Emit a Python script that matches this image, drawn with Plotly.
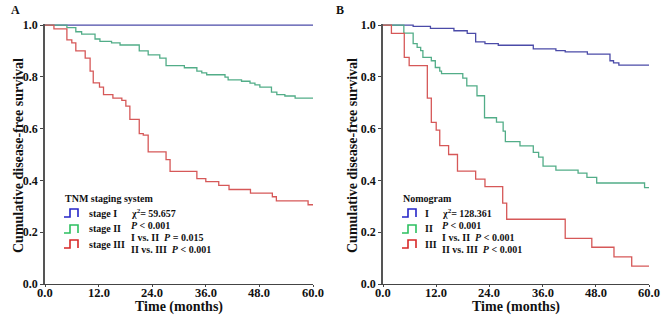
import plotly.graph_objects as go

# ---------------- data ----------------
# Panel A: TNM staging system
a_stage1_t = [0, 60]
a_stage1_s = [1.0, 1.0]

a_stage2_t = [0, 4.9, 6.9, 8.2, 11.2, 12.3, 14.9, 16.8, 21.1, 23.1, 25.7, 27.1, 31.2, 34.0,
              35.1, 36.2, 40.3, 41.0, 44.0, 45.9, 47.0, 48.1, 50.7, 51.9, 53.7, 56.0, 60]
a_stage2_s = [1.0, 0.990, 0.974, 0.965, 0.946, 0.937, 0.931, 0.923, 0.900, 0.885, 0.872, 0.843, 0.835, 0.822,
              0.815, 0.808, 0.799, 0.788, 0.783, 0.776, 0.769, 0.760, 0.741, 0.731, 0.726, 0.718, 0.718]

a_stage3_t = [0, 2.0, 4.9, 6.0, 6.9, 9.0, 10.1, 10.8, 12.2, 13.1, 15.2, 17.2, 18.1, 19.0, 21.1, 22.0,
              23.1, 27.1, 28.0, 34.0, 36.0, 38.9, 41.2, 46.0, 50.9, 51.8, 58.9, 60]
a_stage3_s = [1.0, 0.985, 0.943, 0.931, 0.900, 0.872, 0.822, 0.777, 0.760, 0.731, 0.718, 0.709, 0.687, 0.636,
              0.581, 0.575, 0.510, 0.480, 0.435, 0.407, 0.395, 0.381, 0.365, 0.351, 0.337, 0.321, 0.306, 0.306]

# Panel B: Nomogram
b_g1_t = [0, 6.8, 10.7, 16.0, 19.0, 20.9, 23.0, 26.0, 33.9, 39.0, 41.1, 46.1, 51.2, 52.0, 53.2, 60]
b_g1_s = [1.0, 0.995, 0.987, 0.978, 0.968, 0.935, 0.928, 0.922, 0.908, 0.901, 0.896, 0.888, 0.862, 0.854, 0.845, 0.845]

b_g2_t = [0, 4.7, 6.8, 7.7, 8.5, 9.0, 10.9, 11.8, 12.8, 13.2, 18.0, 18.9, 21.2, 22.9, 25.6, 27.1, 27.6,
          30.9, 33.9, 35.1, 36.1, 39.0, 44.0, 46.0, 48.2, 59.0, 60]
b_g2_s = [1.0, 0.969, 0.928, 0.914, 0.901, 0.875, 0.862, 0.836, 0.822, 0.812, 0.795, 0.765, 0.727, 0.642, 0.625, 0.590, 0.550,
          0.533, 0.508, 0.490, 0.455, 0.440, 0.428, 0.412, 0.390, 0.372, 0.372]

b_g3_t = [0, 1.9, 4.8, 5.9, 10.0, 10.9, 12.0, 12.8, 14.8, 16.8, 20.9, 23.0, 27.0, 27.9, 41.1, 47.1, 52.1, 56.1, 60]
b_g3_s = [1.0, 0.968, 0.875, 0.843, 0.718, 0.624, 0.594, 0.534, 0.500, 0.436, 0.405, 0.376, 0.312, 0.250, 0.176, 0.142, 0.105, 0.069, 0.069]

x_ticks = [0, 12, 24, 36, 48, 60]
y_ticks = [0.0, 0.2, 0.4, 0.6, 0.8, 1.0]

x_title = "Time (months)"
y_title = "Cumulative disease-free survival"

legend_a_title = "TNM staging system"
legend_a_names = ["stage I", "stage II", "stage III"]
legend_a_stats = ["χ<sup>2</sup>= 59.657", "<i>P</i> &lt; 0.001", "I vs. II  <i>P</i> = 0.015", "II vs. III  <i>P</i> &lt; 0.001"]

legend_b_title = "Nomogram"
legend_b_names = ["I", "II", "III"]
legend_b_stats = ["χ<sup>2</sup>= 128.361", "<i>P</i> &lt; 0.001", "I vs. II  <i>P</i> &lt; 0.001", "II vs. III  <i>P</i> &lt; 0.001"]

# ---------------- styling ----------------
W, H = 663, 317
FONT = "Liberation Serif"
curve_colors = ["#4b4ba8", "#52ad88", "#d65858"]
icon_colors = ["#2626c8", "#2cc060", "#d82828"]


def px(x):
    return x / W


def py(y):
    return 1 - y / H


fig = go.Figure()

panels = [
    ("x", "y", [(a_stage1_t, a_stage1_s), (a_stage2_t, a_stage2_s), (a_stage3_t, a_stage3_s)]),
    ("x2", "y2", [(b_g1_t, b_g1_s), (b_g2_t, b_g2_s), (b_g3_t, b_g3_s)]),
]
for xa, ya, series in panels:
    for (t, s), c in zip(series, curve_colors):
        fig.add_trace(go.Scatter(x=t, y=s, mode="lines", line=dict(color=c, width=1.3, shape="hv"),
                                 xaxis=xa, yaxis=ya, showlegend=False, hoverinfo="skip"))

tick_font = dict(family=FONT, size=12, color="#111", weight="bold")
xtick_font = dict(family=FONT, size=12.5, color="#111", weight="bold")
title_font = dict(family=FONT, size=14, color="#111", weight="bold")

common_x = dict(range=[0, 60], tickvals=x_ticks, showticklabels=False, showgrid=False, zeroline=False,
                showline=True, linecolor="#444", linewidth=1, ticks="outside", ticklen=2, tickcolor="#444",
                automargin=False)
common_y = dict(range=[0, 1.004], tickvals=y_ticks, tickformat=".1f", showgrid=False, zeroline=False,
                showline=True, linecolor="#555", linewidth=1.5, ticks="outside", ticklen=3, tickcolor="#444",
                tickfont=tick_font, automargin=False)

y_dom = [py(284), py(24)]
fig.update_layout(
    template="none",
    width=W, height=H, margin=dict(l=0, r=0, t=0, b=0, pad=0),
    paper_bgcolor="white", plot_bgcolor="white",
    xaxis=dict(domain=[px(45), px(313)], anchor="y", **common_x),
    yaxis=dict(domain=y_dom, anchor="x", **common_y),
    xaxis2=dict(domain=[px(383), px(649)], anchor="y2", **common_x),
    yaxis2=dict(domain=y_dom, anchor="x2", **common_y),
)

leg_font = dict(family=FONT, size=10, color="#111", weight="bold")
ann = []
shapes = []


def text_at(txt, x, y, font, xanchor="left", angle=0):
    ann.append(dict(text=txt, x=px(x), y=py(y), xref="paper", yref="paper", xanchor=xanchor,
                    yanchor="middle", showarrow=False, font=font, textangle=angle))


# x tick labels, placed on the data axes at the tick values
for xr in ("x", "x2"):
    for v in x_ticks:
        ann.append(dict(text=f"{v:.1f}", x=v, xref=xr, y=py(292.5), yref="paper", xanchor="center",
                        yanchor="middle", showarrow=False, font=xtick_font))

# panel letters
letter_font = dict(family=FONT, size=12, color="#111", weight="bold")
text_at("A", 9, 10, letter_font)
text_at("B", 334, 10, letter_font)

# axis titles
text_at(x_title, 179, 306.5, title_font, xanchor="center")
text_at(x_title, 516, 306.5, title_font, xanchor="center")
text_at(y_title, 18, 156, title_font, xanchor="center", angle=-90)
text_at(y_title, 352, 156, title_font, xanchor="center", angle=-90)


def add_legend(x0, title, names, stats, name_x, stat_x):
    text_at(title, x0, 198, leg_font)
    rows = [213, 229, 244]
    for nm, yy, c in zip(names, rows, icon_colors):
        ix = x0 + 1
        path = (f"M {px(ix)} {py(yy + 4)} L {px(ix + 6)} {py(yy + 4)} L {px(ix + 6)} {py(yy - 4)} "
                f"L {px(ix + 14)} {py(yy - 4)} L {px(ix + 14)} {py(yy + 4)}")
        shapes.append(dict(type="path", path=path, xref="paper", yref="paper",
                           line=dict(color=c, width=1.6)))
        text_at(nm, name_x, yy, leg_font)
    for st, yy in zip(stats, [213, 225, 237, 249]):
        text_at(st, stat_x, yy, leg_font)


add_legend(63, legend_a_title, legend_a_names, legend_a_stats, 87, 129)
add_legend(401, legend_b_title, legend_b_names, legend_b_stats, 423, 440)

fig.update_layout(annotations=ann, shapes=shapes)
fig.write_html("out.html", config={"displayModeBar": False},
               post_script="document.body.style.margin='0px';document.body.style.overflow='hidden';")
